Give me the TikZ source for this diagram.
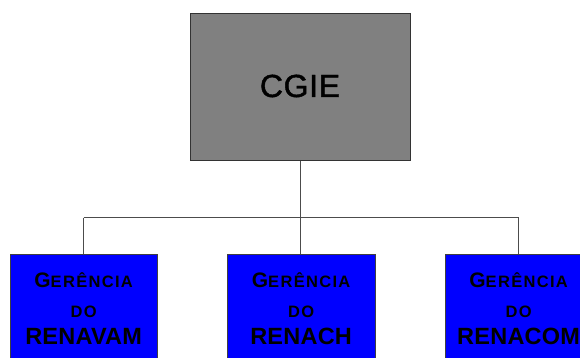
\documentclass[tikz,border=0pt]{standalone}
\usepackage{fontspec}
\setmainfont{Liberation Sans}
\begin{document}
\begin{tikzpicture}[x=1pt,y=-1pt,
  topbox/.style={draw=black!80,line width=0.8pt,fill=gray,inner sep=0pt,anchor=north west},
  subbox/.style={draw=black!75,line width=0.8pt,fill=blue,inner sep=0pt,anchor=north west,minimum width=147.5pt,minimum height=120pt},
  conn/.style={draw=black!70,line width=0.9pt},
  lbl/.style={anchor=base,inner sep=0pt,font=\bfseries}]
\useasboundingbox (0,0) rectangle (580,358);
\node[topbox,minimum width=220pt,minimum height=147pt] (cgie) at (190,13) {};
\node[anchor=base,inner sep=0pt,font=\fontsize{32}{36}\selectfont\addfontfeature{LetterSpace=2,FakeBold=1.2}] (cgiet) at (300,97) {CGIE};
\coordinate (hub) at (300.5,217.5);
\node[subbox] (b1) at (9.5,253.5) {};
\node[subbox] (b2) at (227,253.5) {};
\node[subbox] (b3) at (444.5,253.5) {};
\coordinate (h1) at (b1.north |- hub);
\coordinate (h3) at (b3.north |- hub);
\draw[conn] (cgie.south -| hub) -- (hub);
\draw[conn] (h1) -- (h3);
\draw[conn] (h1) -- (b1.north);
\draw[conn] (hub) -- (b2.north -| hub);
\draw[conn] (h3) -- (b3.north);
\foreach \n/\t in {b1/RENAVAM,b2/RENACH,b3/RENACOM}{
  \node[lbl,font=\bfseries\addfontfeature{LetterSpace=8}] (\n g) at ([yshift=-33.5pt]\n.north) {{\fontsize{21}{24}\selectfont G}{\fontsize{16.5}{18}\selectfont ERÊNCIA}};
  \node[lbl,font=\bfseries\fontsize{16.5}{18}\selectfont\addfontfeature{LetterSpace=8}] (\n d) at ([yshift=-63.5pt]\n.north) {DO};
  \node[lbl,font=\bfseries\fontsize{23.5}{26}\selectfont\addfontfeature{LetterSpace=1}] (\n t) at ([yshift=-90.5pt]\n.north) {\t};
}
\end{tikzpicture}
\end{document}
